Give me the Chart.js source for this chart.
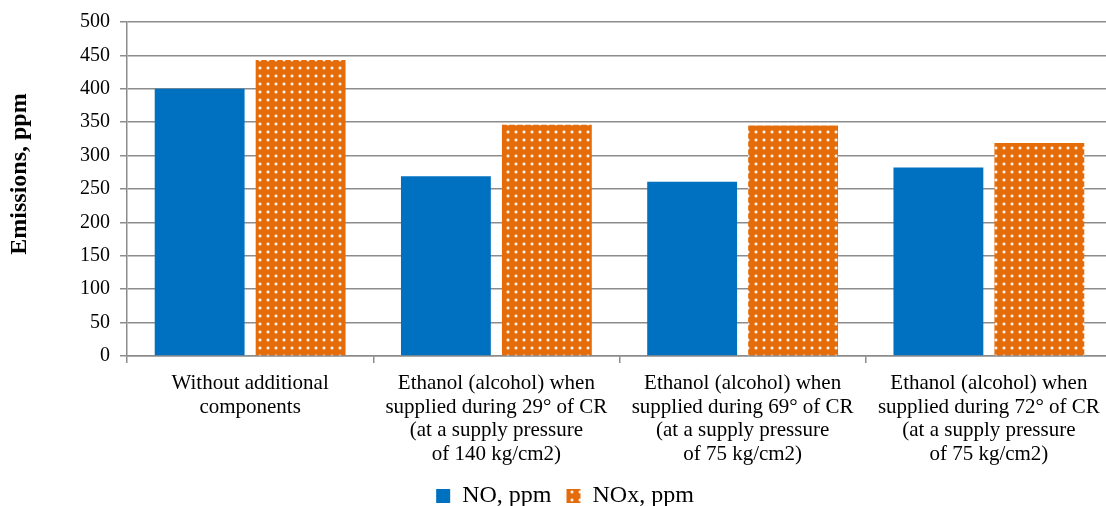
<!DOCTYPE html>
<html>
<head>
<meta charset="utf-8">
<script src="https://cdn.jsdelivr.net/npm/chart.js@4/dist/chart.umd.min.js"></script>
<style>
  html, body { margin: 0; padding: 0; background: #ffffff; overflow: hidden; }
  #wrap { width: 1112px; height: 506px; position: relative; }
</style>
</head>
<body>
<div id="wrap"><canvas id="chart"></canvas></div>
<script>
// Categories (multi-line tick labels)
const categories = [
  ["Without additional", "components"],
  ["Ethanol (alcohol) when", "supplied during 29° of CR", "(at a supply pressure", "of 140 kg/cm2)"],
  ["Ethanol (alcohol) when", "supplied during 69° of CR", "(at a supply pressure", "of 75 kg/cm2)"],
  ["Ethanol (alcohol) when", "supplied during 72° of CR", "(at a supply pressure", "of 75 kg/cm2)"]
];

// Series values, ppm
const noValues = [400, 269, 261, 282];
const noxValues = [443, 346, 345, 319];

// Axis range
const yMin = 0;
const yMax = 500;
const yStep = 50;

const yAxisTitle = 'Emissions, ppm';

const FONT = "'Liberation Serif', 'Times New Roman', Times, serif";

// Orange fill with a regular grid of small light dots
function dottedPattern(base) {
  const tile = document.createElement('canvas');
  tile.width = 8;
  tile.height = 8;
  const c = tile.getContext('2d');
  c.fillStyle = base;
  c.fillRect(0, 0, 8, 8);
  c.fillStyle = 'rgba(255,255,255,0.9)';
  c.fillRect(3, 3, 2, 2);
  c.fillStyle = 'rgba(255,255,255,0.35)';
  c.fillRect(2, 3, 1, 2);
  c.fillRect(5, 3, 1, 2);
  c.fillRect(3, 2, 2, 1);
  c.fillRect(3, 5, 2, 1);
  return c.createPattern(tile, 'repeat');
}

// Vertical axis title, set a little above the middle of the plot
const axisTitlePlugin = {
  id: 'axisTitle',
  afterDraw(chart) {
    const c = chart.ctx;
    const area = chart.chartArea;
    c.save();
    c.translate(20, (area.top + area.bottom) / 2 - 15);
    c.rotate(-Math.PI / 2);
    c.font = 'bold 24px ' + FONT;
    c.fillStyle = '#000000';
    c.textAlign = 'center';
    c.textBaseline = 'middle';
    c.fillText(yAxisTitle, 0, 0);
    c.restore();
  }
};

const ctx = document.getElementById('chart').getContext('2d');
const orangeDots = dottedPattern('#E46C0A');

Chart.defaults.font.family = FONT;
Chart.defaults.color = '#000000';

new Chart(ctx, {
  type: 'bar',
  data: {
    labels: categories,
    datasets: [
      {
        label: 'NO, ppm',
        data: noValues,
        backgroundColor: '#0070C0',
        borderWidth: 0
      },
      {
        label: 'NOx, ppm',
        data: noxValues,
        backgroundColor: orangeDots,
        borderWidth: 0
      }
    ]
  },
  plugins: [axisTitlePlugin],
  options: {
    responsive: true,
    maintainAspectRatio: false,
    animation: false,
    devicePixelRatio: 1,
    categoryPercentage: 0.82,
    barPercentage: 0.89,
    layout: { padding: { top: 19, right: 0, bottom: -12, left: 18 } },
    plugins: {
      legend: {
        position: 'bottom',
        labels: {
          font: { size: 24, family: FONT },
          color: '#000000',
          boxWidth: 14,
          boxHeight: 14,
          padding: 15
        }
      },
      tooltip: { enabled: false }
    },
    scales: {
      x: {
        grid: {
          offset: true,
          drawOnChartArea: false,
          drawTicks: true,
          tickLength: 7,
          color: '#8c8c8c',
          lineWidth: 1.5
        },
        border: { color: '#8c8c8c', width: 1.5 },
        ticks: {
          font: { size: 21, family: FONT, lineHeight: 1.12 },
          color: '#000000',
          padding: 9,
          maxRotation: 0,
          autoSkip: false
        },
        afterFit(scale) { scale.height = 113; }
      },
      y: {
        min: yMin,
        max: yMax,
        ticks: {
          stepSize: yStep,
          font: { size: 20, family: FONT },
          color: '#000000',
          padding: 10
        },
        grid: {
          color: '#8c8c8c',
          lineWidth: 1.5,
          tickLength: 7
        },
        border: { color: '#8c8c8c', width: 1.5 },
        afterFit(scale) { scale.width = 109; }
      }
    }
  }
});
</script>
</body>
</html>
